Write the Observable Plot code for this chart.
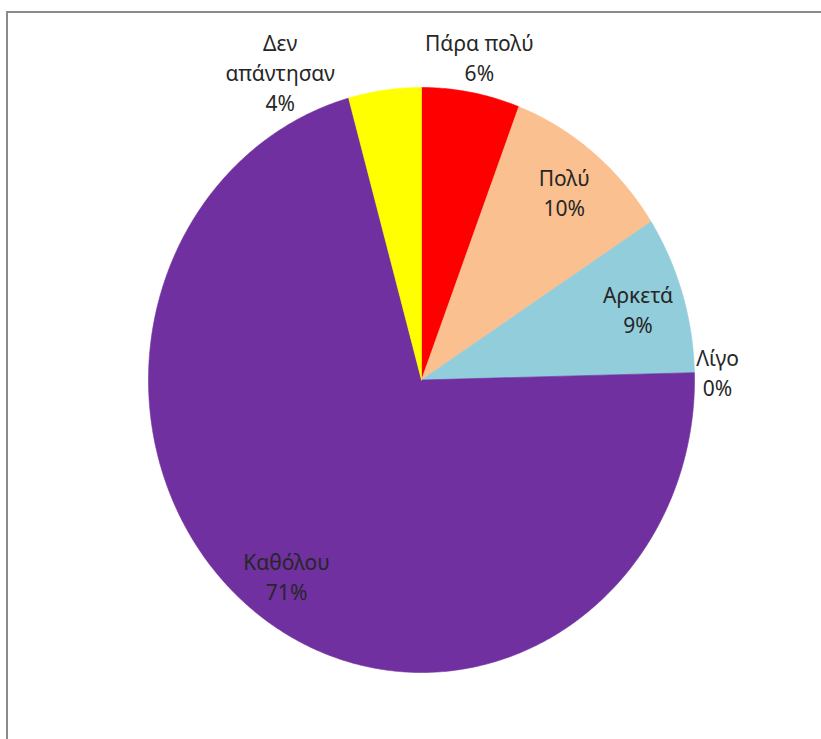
<!DOCTYPE html>
<html>
<head>
<meta charset="utf-8">
<script src="https://cdn.jsdelivr.net/npm/d3@7"></script>
<script src="https://cdn.jsdelivr.net/npm/@observablehq/plot@0.6"></script>
<style>
  html, body { margin: 0; padding: 0; background: #fff; }
  #wrap { position: relative; width: 821px; height: 739px; overflow: hidden; background: #fff; }
  #frame { position: absolute; left: 6px; top: 11px; width: 900px; height: 900px;
           border-left: 2px solid #8a8a8a; border-top: 2px solid #8a8a8a; }
  #chart { position: absolute; left: 0; top: 0; }
</style>
</head>
<body>
<div id="wrap"><div id="frame"></div><div id="chart"></div></div>
<script>
// ---- data ----
const categories = ["Πάρα πολύ", "Πολύ", "Αρκετά", "Λίγο", "Καθόλου", "Δεν απάντησαν"];
const shares = [5.8, 10.1, 8.7, 0, 71.1, 4.3];
const sliceColors = ["#FF0000", "#FAC090", "#92CDDC", "#9BBB59", "#7030A0", "#FFFF00"];

// ---- layout ----
const W = 821, H = 739;
const mL = 148, mR = 127, mT = 87, mB = 67;
const rx = (W - mL - mR) / 2, ry = (H - mT - mB) / 2;
const cx = mL + rx, cy = mT + ry;
const FONT = "Noto Sans", FS = 21, LH = 1.43;

const ctx = document.createElement("canvas").getContext("2d");
ctx.font = `${FS}px "${FONT}"`;
const tw = s => ctx.measureText(s).width;

const rows = categories.map((c, i) => ({category: c, share: shares[i]}));
const arcs = d3.pie().sort(null).value(d => d.share)(rows);

// slice polygons (domain units: x,y in [-1,1], y up)
const slicePts = [];
for (const a of arcs) {
  if (a.endAngle - a.startAngle <= 0) continue;
  const c = a.data.category;
  slicePts.push({category: c, x: 0, y: 0});
  const n = Math.max(2, Math.ceil((a.endAngle - a.startAngle) / (Math.PI / 360)));
  for (let k = 0; k <= n; k++) {
    const t = a.startAngle + (a.endAngle - a.startAngle) * k / n;
    slicePts.push({category: c, x: Math.sin(t), y: Math.cos(t)});
  }
  slicePts.push({category: c, x: 0, y: 0});
}

// labels: computed in pixel space, then converted to domain units
const labels = arcs.map(a => {
  const name = a.data.category;
  const nameLines = tw(name) > 125 ? name.split(" ") : [name];
  const lines = [...nameLines, `${Math.round(a.data.share)}%`];
  const w = d3.max(lines, tw), h = lines.length * FS * LH;
  const mid = (a.startAngle + a.endAngle) / 2;
  const s = Math.sin(mid), co = Math.cos(mid);
  const inside = a.data.share >= 8;
  let px, py;
  if (inside) {
    px = cx + 0.83 * rx * s; py = cy - 0.83 * ry * co;
  } else {
    const ax = cx + 1.03 * rx * s, ay = cy - 1.03 * ry * co;
    px = ax + 0.7 * s * w / 2; py = ay - co * h / 2;
    py = Math.max(py, 25.5 + h / 2);
  }
  return {text: lines.join("\n"), px, py, w, h, inside};
});
// resolve overlap between outside labels (push the later one away horizontally)
const outs = labels.filter(d => !d.inside);
for (let i = 0; i < outs.length; i++) {
  for (let j = 0; j < i; j++) {
    const A = outs[j], B = outs[i];
    const oy = Math.abs(A.py - B.py) < (A.h + B.h) / 2;
    const ox = Math.abs(A.px - B.px) < (A.w + B.w) / 2 + 90;
    if (oy && ox) {
      if (B.px < A.px) B.px = A.px - (A.w + B.w) / 2 - 90;
      else B.px = A.px + (A.w + B.w) / 2 + 90;
    }
  }
}
labels.forEach(d => { d.x = (d.px - cx) / rx; d.y = (cy - d.py) / ry; });

const chart = Plot.plot({
  width: W, height: H,
  marginLeft: mL, marginRight: mR, marginTop: mT, marginBottom: mB,
  x: {domain: [-1, 1], axis: null},
  y: {domain: [-1, 1], axis: null},
  color: {domain: categories, range: sliceColors},
  style: {background: "transparent", fontFamily: FONT, overflow: "visible"},
  marks: [
    Plot.line(slicePts, {x: "x", y: "y", z: "category", fill: "category", stroke: "category",
      strokeWidth: 0.6, curve: "linear"}),
    Plot.text(labels, {x: "x", y: "y", text: "text", fontFamily: FONT, fontSize: FS,
      lineHeight: LH, lineAnchor: "middle", textAnchor: "middle", fill: "#262626"})
  ]
});
document.getElementById("chart").appendChild(chart);
</script>
</body>
</html>
